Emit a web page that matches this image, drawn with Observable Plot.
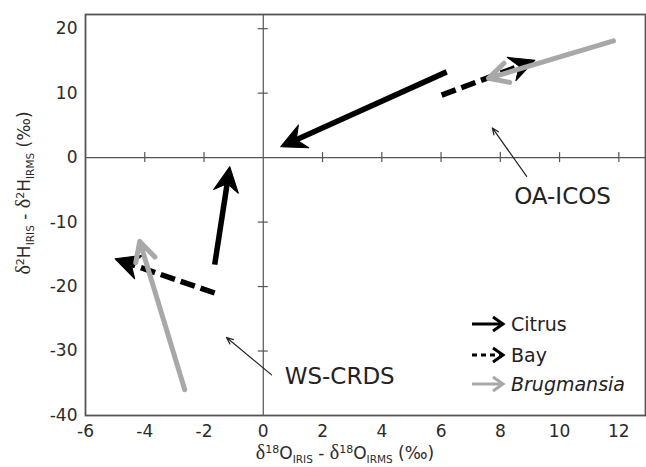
<!DOCTYPE html>
<html>
<head>
<meta charset="utf-8">
<script src="https://cdn.jsdelivr.net/npm/d3@7"></script>
<script src="https://cdn.jsdelivr.net/npm/@observablehq/plot@0.6"></script>
<style>
  html, body { margin: 0; padding: 0; background: white; }
</style>
</head>
<body>
<div id="chart"></div>
<script>
// ---- data ----
const instruments = ["OA-ICOS", "WS-CRDS"];
const seriesNames = ["Citrus", "Bay", "Brugmansia"];

// start (tail) and end (tip) of each arrow, per instrument [OA-ICOS, WS-CRDS]
const citrusX1 = [6.19, -1.64];
const citrusY1 = [13.3, -16.6];
const citrusX2 = [0.59, -1.13];
const citrusY2 = [1.7, -1.4];

const bayX1 = [6.02, -1.64];
const bayY1 = [9.7, -21.0];
const bayX2 = [9.17, -5.0];
const bayY2 = [15.1, -15.7];

const brugX1 = [11.82, -2.65];
const brugY1 = [18.1, -36.0];
const brugX2 = [7.6, -4.17];
const brugY2 = [12.3, -13.0];

// annotation labels and pointer arrows
const annLabel = ["OA-ICOS", "WS-CRDS"];
const annTextX = [10.1, 2.58];
const annTextY = [-6.0, -33.9];
const annX1 = [8.89, 0.28];
const annY1 = [-2.9, -33.7];
const annX2 = [7.73, -1.24];
const annY2 = [4.6, -27.9];

const xTicks = [-6, -4, -2, 0, 2, 4, 6, 8, 10, 12];
const yTicks = [-40, -30, -20, -10, 0, 10, 20];
const crossXTicks = [-4, -2, 2, 4, 6, 8, 10, 12];
const crossYTicks = [-30, -20, -10, 10, 20];

const xDomain = [-6, 12.9];
const yDomain = [-40, 22.2];

// ---- build tables ----
function rows(name, X1, Y1, X2, Y2) {
  return instruments.map((inst, i) => ({series: name, inst, x1: X1[i], y1: Y1[i], x2: X2[i], y2: Y2[i]}));
}
const citrus = rows("Citrus", citrusX1, citrusY1, citrusX2, citrusY2);
const bay = rows("Bay", bayX1, bayY1, bayX2, bayY2);
const brug = rows("Brugmansia", brugX1, brugY1, brugX2, brugY2);
const ann = annLabel.map((t, i) => ({t, tx: annTextX[i], ty: annTextY[i], x1: annX1[i], y1: annY1[i], x2: annX2[i], y2: annY2[i]}));

// ---- layout ----
const W = 646, H = 467, mL = 85, mR = 1, mT = 14, mB = 52;
const sx = Plot.scale({x: {domain: xDomain, range: [mL, W - mR]}});
const sy = Plot.scale({y: {domain: yDomain, range: [H - mB, mT]}});
const rot = d => {
  const dx = sx.apply(d.x2) - sx.apply(d.x1);
  const dy = sy.apply(d.y2) - sy.apply(d.y1);
  return Math.atan2(dx, -dy) * 180 / Math.PI;
};
const stealth = {
  draw(ctx, l) {
    const w = l * 0.5;
    ctx.moveTo(0, -l);
    ctx.lineTo(w, 0);
    ctx.lineTo(0, -l * 0.32);
    ctx.lineTo(-w, 0);
    ctx.closePath();
  }
};
const BLACK = "#000";
const GRAY = "#a8a8a8";
const AX = "#555";

const svg = Plot.plot({
  width: W, height: H,
  marginLeft: mL, marginRight: mR, marginTop: mT, marginBottom: mB,
  style: {fontFamily: "DejaVu Sans, Verdana, sans-serif", fontSize: "17px", color: "#2a2a2a", background: "white"},
  x: {domain: xDomain, ticks: xTicks, tickSize: 0, tickPadding: 9, label: null, tickFormat: d => d},
  y: {domain: yDomain, ticks: yTicks, tickSize: 0, tickPadding: 8, label: null, tickFormat: d => d},
  marks: [
    Plot.ruleX([0], {stroke: AX, strokeWidth: 1.2}),
    Plot.ruleY([0], {stroke: AX, strokeWidth: 1.2}),
    Plot.ruleX(crossXTicks, {x: d => d, y1: 0, y2: 0, insetTop: -5, insetBottom: -5, stroke: AX, strokeWidth: 1.2}),
    Plot.ruleY(crossYTicks, {y: d => d, x1: 0, x2: 0, insetLeft: -5, insetRight: -5, stroke: AX, strokeWidth: 1.2}),
    Plot.frame({stroke: AX, strokeWidth: 1.8}),
    // annotations
    Plot.arrow(ann, {x1: "x1", y1: "y1", x2: "x2", y2: "y2", stroke: "#222", strokeWidth: 1.2, headLength: 9, headAngle: 45}),
    Plot.text(ann, {x: "tx", y: "ty", text: "t", fontSize: 23, fill: "#222"}),
    // Citrus
    Plot.arrow(citrus, {x1: "x1", y1: "y1", x2: "x2", y2: "y2", headLength: 0, insetEnd: 14, stroke: BLACK, strokeWidth: 5.5, strokeLinecap: "butt"}),
    Plot.vector(citrus, {x: "x2", y: "y2", rotate: rot, length: 25, anchor: "end", shape: stealth, fill: BLACK, stroke: BLACK, strokeWidth: 1}),
    // Bay
    Plot.arrow(bay, {x1: "x1", y1: "y1", x2: "x2", y2: "y2", headLength: 0, insetEnd: 14, stroke: BLACK, strokeWidth: 5.5, strokeLinecap: "butt", strokeDasharray: "15,6"}),
    Plot.vector(bay, {x: "x2", y: "y2", rotate: rot, length: 25, anchor: "end", shape: stealth, fill: BLACK, stroke: BLACK, strokeWidth: 1}),
    // Brugmansia
    Plot.arrow(brug, {x1: "x1", y1: "y1", x2: "x2", y2: "y2", headLength: 6.5, headAngle: 55, stroke: GRAY, strokeWidth: 5})
  ]
});

// ---- axis titles with sub/superscripts ----
const S = d3.select(svg);
function richText(g, parts) {
  let shift = 0;
  parts.forEach(p => {
    const ts = g.append("tspan").text(p.t);
    let target = 0;
    if (p.sup) { ts.attr("font-size", 11); target = -6; }
    else if (p.sub) { ts.attr("font-size", 10.5); target = 4; }
    if (p.serif) ts.attr("font-family", "Liberation Serif, serif").attr("font-size", 20);
    ts.attr("dy", target - shift);
    shift = target;
  });
}
const xParts = [
  {t: "δ", serif: true}, {t: "18", sup: true}, {t: "O"}, {t: "IRIS", sub: true},
  {t: " - "}, {t: "δ", serif: true}, {t: "18", sup: true}, {t: "O"}, {t: "IRMS", sub: true}, {t: " (‰)"}
];
const yParts = [
  {t: "δ", serif: true}, {t: "2", sup: true}, {t: "H"}, {t: "IRIS", sub: true},
  {t: " - "}, {t: "δ", serif: true}, {t: "2", sup: true}, {t: "H"}, {t: "IRMS", sub: true}, {t: " (‰)"}
];
const xl = S.append("text").attr("x", 345).attr("y", 459).attr("text-anchor", "middle")
  .attr("font-family", "DejaVu Sans, sans-serif").attr("font-size", 17).attr("fill", "#2a2a2a");
richText(xl, xParts);
const yl = S.append("text").attr("transform", "translate(30,193) rotate(-90)").attr("text-anchor", "middle")
  .attr("font-family", "DejaVu Sans, sans-serif").attr("font-size", 17).attr("fill", "#2a2a2a");
richText(yl, yParts);

// ---- legend ----
const legend = S.append("g").attr("text-anchor", "start");
const legendItems = [
  {name: seriesNames[0], color: BLACK, dash: null, italic: false, y: 324},
  {name: seriesNames[1], color: BLACK, dash: "5,4", italic: false, y: 355},
  {name: seriesNames[2], color: GRAY, dash: null, italic: true, y: 384}
];
legendItems.forEach(it => {
  legend.append("line").attr("x1", 472).attr("x2", 500).attr("y1", it.y).attr("y2", it.y)
    .attr("stroke", it.color).attr("stroke-width", 3).attr("stroke-dasharray", it.dash);
  legend.append("path").attr("d", `M${493},${it.y - 7}L${503},${it.y}L${493},${it.y + 7}`)
    .attr("fill", "none").attr("stroke", it.color).attr("stroke-width", 3).attr("stroke-linejoin", "miter");
  legend.append("text").attr("x", 511).attr("y", it.y + 7).attr("text-anchor", "start").text(it.name)
    .attr("font-family", "DejaVu Sans, sans-serif").attr("font-size", 19).attr("fill", "#222")
    .attr("font-style", it.italic ? "italic" : null);
});

document.getElementById("chart").appendChild(svg);
</script>
</body>
</html>
